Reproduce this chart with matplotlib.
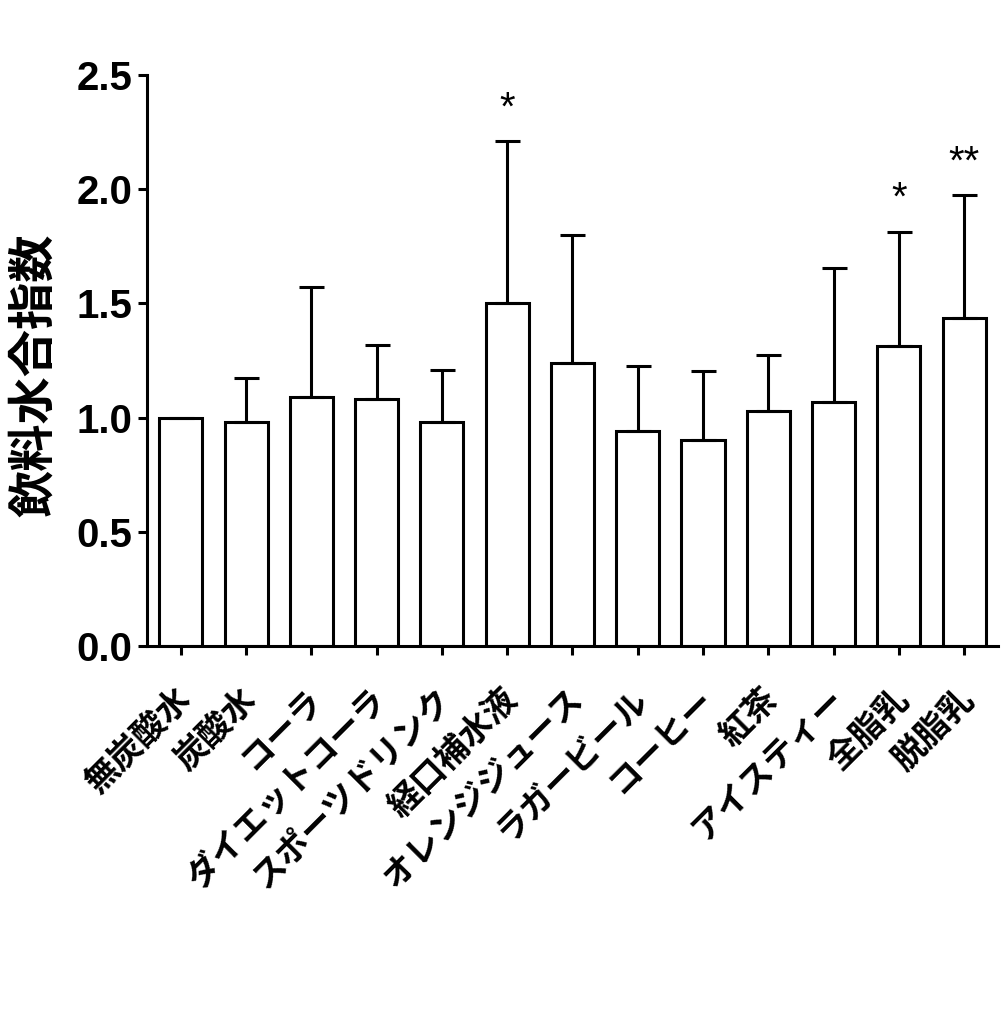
import matplotlib
matplotlib.use("Agg")
import matplotlib.pyplot as plt
import matplotlib.transforms as mtransforms
import numpy as np

# values
drinks = ["無炭酸水", "炭酸水", "コーラ", "ダイエットコーラ", "スポーツドリンク",
          "経口補水液", "オレンジジュース", "ラガービール", "コーヒー", "紅茶",
          "アイスティー", "全脂乳", "脱脂乳"]
means = [1.00, 0.98, 1.09, 1.08, 0.98, 1.50, 1.24, 0.94, 0.90, 1.03, 1.07, 1.315, 1.435]
errs = [np.nan, 0.195, 0.48, 0.24, 0.23, 0.71, 0.56, 0.285, 0.305, 0.245, 0.585, 0.50, 0.54]
marks = ["", "", "", "", "", "*", "", "", "", "", "", "*", "**"]
yticks = [0.0, 0.5, 1.0, 1.5, 2.0, 2.5]

NUM_FONT = "Liberation Sans"
JP_FONT = ["Noto Sans CJK JP", "DejaVu Sans"]
LW = 2.2

fig = plt.figure(figsize=(10.04, 10.24), dpi=100)
ax = fig.add_axes([0.1464, 0.3691, 0.8476, 0.5576])

x = np.arange(len(drinks))
means = np.array(means)
errs = np.array(errs)

ax.bar(x, means, width=0.66, color="white", edgecolor="black", linewidth=LW, zorder=2)
ax.errorbar(x, means, yerr=[np.zeros_like(errs), errs], fmt="none", ecolor="black",
            elinewidth=LW, capsize=9, capthick=LW, zorder=3)

for xi, m, e, s in zip(x, means, errs, marks):
    if s:
        ax.text(xi, m + e + 0.06, s, ha="center", va="bottom",
                fontsize=29, family=NUM_FONT)

ax.set_xlim(-0.52, len(drinks) - 0.48)
ax.set_ylim(0, 2.5)
ax.set_yticks(yticks)
ax.set_yticklabels([f"{v:.1f}" for v in yticks], fontsize=29,
                   fontweight="bold", family=NUM_FONT)
ax.set_xticks(x)
ax.set_xticklabels(drinks, rotation=45, ha="right", va="center",
                   rotation_mode="anchor", fontsize=24, fontweight="bold",
                   family=JP_FONT)
ax.tick_params(axis="y", length=6.5, width=LW, pad=4)
ax.tick_params(axis="x", length=6.5, width=LW, pad=28)

# nudge the slanted labels a little to the right
shift = mtransforms.ScaledTranslation(5 / 100, 0, fig.dpi_scale_trans)
for lbl in ax.get_xticklabels():
    lbl.set_transform(lbl.get_transform() + shift)

ax.set_ylabel("飲料水合指数", fontsize=34, fontweight="bold", family=JP_FONT)
ax.yaxis.set_label_coords(-0.105, 0.475)

for side in ("top", "right"):
    ax.spines[side].set_visible(False)
for side in ("left", "bottom"):
    ax.spines[side].set_linewidth(LW)

fig.savefig("out.png", dpi=100, facecolor="white")
